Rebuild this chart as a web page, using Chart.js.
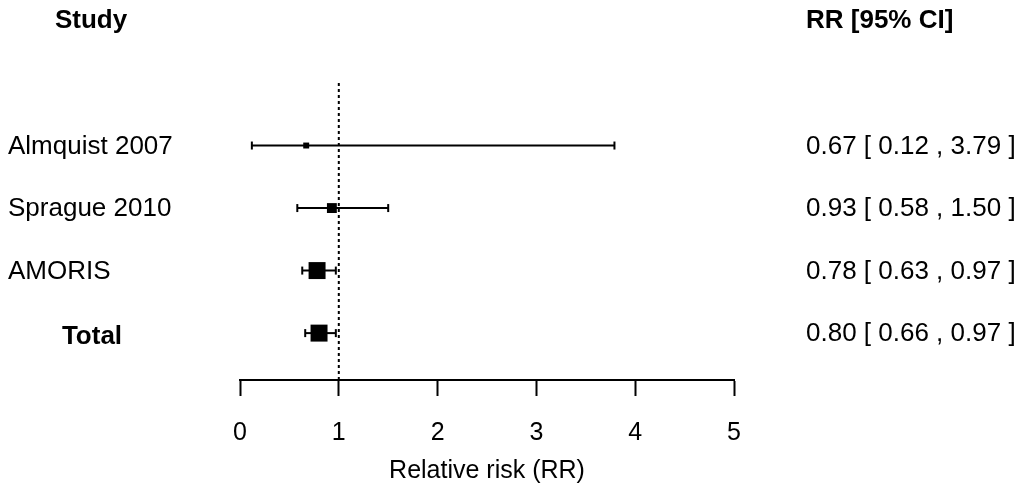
<!DOCTYPE html>
<html lang="en">

<head>
    <meta charset="UTF-8">
    <title>Forest plot</title>
    <script src="https://cdn.jsdelivr.net/npm/chart.js"></script>
    <style>
        body { margin: 0; background: #fff; }
    </style>
</head>

<body>

    <div style="width: 1024px; height: 501px; position: relative;">
        <canvas id="myChart"></canvas>
    </div>

    <script>
        // data
        const studies = ['Almquist 2007', 'Sprague 2010', 'AMORIS', 'Total'];
        const rr = [0.67, 0.93, 0.78, 0.80];
        const ciLow = [0.12, 0.58, 0.63, 0.66];
        const ciHigh = [3.79, 1.50, 0.97, 0.97];
        const rows = [4, 3, 2, 1];   // row position on the y scale, top to bottom
        const xTicks = [0, 1, 2, 3, 4, 5];

        // styling
        const boxRadius = [4.2, 7, 12, 12];   // square marker size per study
        const FONT = '"Liberation Sans", Arial, sans-serif';
        const FS = 26;

        const datasets = [];

        // dotted line of no effect
        datasets.push({
            data: [{ x: 1, y: 0.25 }, { x: 1, y: 5 }],
            showLine: true,
            borderColor: '#000',
            borderWidth: 2,
            borderDash: [3, 3],
            pointRadius: 0
        });

        // confidence intervals, caps drawn as rotated line points
        studies.forEach((s, i) => {
            datasets.push({
                data: [{ x: ciLow[i], y: rows[i] }, { x: ciHigh[i], y: rows[i] }],
                showLine: true,
                borderColor: '#000',
                borderWidth: 2,
                pointStyle: 'line',
                rotation: 90,
                pointRadius: 4,
                pointBorderWidth: 2,
                pointBorderColor: '#000'
            });
        });

        // point estimates
        datasets.push({
            data: rr.map((v, i) => ({ x: v, y: rows[i] })),
            pointStyle: 'rect',
            pointRadius: boxRadius,
            backgroundColor: '#000',
            borderColor: '#000',
            borderWidth: 0
        });

        // left / right text columns
        const textColumns = {
            id: 'textColumns',
            afterDraw(chart) {
                const ctx = chart.ctx;
                const y = chart.scales.y;
                ctx.save();
                ctx.fillStyle = '#000';
                ctx.textBaseline = 'middle';

                ctx.font = 'bold ' + FS + 'px ' + FONT;
                ctx.textAlign = 'center';
                ctx.fillText('Study', 91, 21);
                ctx.textAlign = 'left';
                ctx.fillText('RR [95% CI]', 806, 21);

                studies.forEach((s, i) => {
                    const py = y.getPixelForValue(rows[i]);
                    if (s === 'Total') {
                        ctx.font = 'bold ' + FS + 'px ' + FONT;
                        ctx.textAlign = 'center';
                        ctx.fillText(s, 92, py + 4);
                    } else {
                        ctx.font = FS + 'px ' + FONT;
                        ctx.textAlign = 'left';
                        ctx.fillText(s, 8, py + 1);
                    }
                    ctx.font = FS + 'px ' + FONT;
                    ctx.textAlign = 'left';
                    const txt = rr[i].toFixed(2) + ' [ ' + ciLow[i].toFixed(2) + ' , ' + ciHigh[i].toFixed(2) + ' ]';
                    ctx.fillText(txt, 806, py + 1);
                });
                ctx.restore();
            }
        };

        new Chart(document.getElementById('myChart'), {
            type: 'scatter',
            data: { datasets: datasets },
            options: {
                responsive: true,
                maintainAspectRatio: false,
                animation: false,
                layout: { padding: { left: 240, right: 290, top: 83, bottom: 11 } },
                plugins: {
                    legend: { display: false },
                    tooltip: { enabled: false }
                },
                scales: {
                    x: {
                        type: 'linear',
                        min: 0,
                        max: 5,
                        afterBuildTicks: (axis) => { axis.ticks = xTicks.map(v => ({ value: v })); },
                        border: { display: true, color: '#000', width: 2 },
                        grid: {
                            drawOnChartArea: false,
                            drawTicks: true,
                            tickLength: 16,
                            tickWidth: 2,
                            tickColor: '#000'
                        },
                        ticks: {
                            color: '#000',
                            padding: 22,
                            font: { family: FONT, size: 25 }
                        },
                        title: {
                            display: true,
                            text: 'Relative risk (RR)',
                            color: '#000',
                            padding: { top: -14, bottom: 4 },
                            font: { family: FONT, size: 25 }
                        }
                    },
                    y: {
                        type: 'linear',
                        min: 0.25,
                        max: 5,
                        display: false
                    }
                }
            },
            plugins: [textColumns]
        });
    </script>
</body>

</html>
